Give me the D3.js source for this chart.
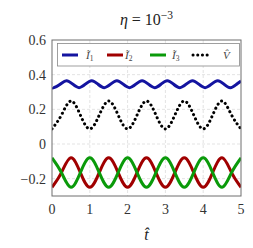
<!DOCTYPE html>
<html>
<head>
<meta charset="utf-8">
<script src="https://cdn.jsdelivr.net/npm/d3@7"></script>
<style>
  body { margin: 0; background: #fff; }
</style>
</head>
<body>
<script>
// values, key points (troughs, mids, peaks)
const i1T = [0, 0.05, 0.217, 0.383, 0.55, 0.717, 0.883, 1.05, 1.217, 1.383, 1.55, 1.717, 1.883,
  2.05, 2.217, 2.383, 2.55, 2.717, 2.883, 3.05, 3.217, 3.383, 3.55, 3.717, 3.883,
  4.05, 4.217, 4.383, 4.55, 4.717, 4.883, 5];
const i1V = [0.326, 0.325, 0.345, 0.365, 0.345, 0.325, 0.345, 0.365, 0.345, 0.325, 0.345, 0.365, 0.345,
  0.325, 0.345, 0.365, 0.345, 0.325, 0.345, 0.365, 0.345, 0.325, 0.345, 0.365, 0.345,
  0.325, 0.345, 0.365, 0.345, 0.325, 0.345, 0.363];

const qT = [0, 0.25, 0.5, 0.75, 1, 1.25, 1.5, 1.75, 2, 2.25, 2.5, 2.75, 3, 3.25, 3.5, 3.75, 4, 4.25, 4.5, 4.75, 5];
const i2V = [-0.25, -0.165, -0.08, -0.165, -0.25, -0.165, -0.08, -0.165, -0.25, -0.165, -0.08,
  -0.165, -0.25, -0.165, -0.08, -0.165, -0.25, -0.165, -0.08, -0.165, -0.25];
const i3V = [-0.08, -0.165, -0.25, -0.165, -0.08, -0.165, -0.25, -0.165, -0.08, -0.165, -0.25,
  -0.165, -0.08, -0.165, -0.25, -0.165, -0.08, -0.165, -0.25, -0.165, -0.08];
const vV = [0.087, 0.167, 0.248, 0.167, 0.087, 0.167, 0.248, 0.167, 0.087, 0.167, 0.248,
  0.167, 0.087, 0.167, 0.248, 0.167, 0.087, 0.167, 0.248, 0.167, 0.087];

const xTicks = [0, 1, 2, 3, 4, 5];
const yTicks = [-0.2, 0, 0.2, 0.4, 0.6];

const series = [
  {name: "1", t: i1T, v: i1V, color: "#1414a0", dash: null},
  {name: "2", t: qT, v: i2V, color: "#a00000", dash: null},
  {name: "3", t: qT, v: i3V, color: "#0a9a0a", dash: null},
  {name: "V", t: qT, v: vV, color: "#000", dash: "0.1 4.6"}
];

const width = 253, height = 248;
const m = {left: 52, right: 241, top: 40, bottom: 196};
const serif = "'Liberation Serif', 'DejaVu Serif', 'Times New Roman', serif";

const svg = d3.select("body").append("svg")
  .attr("width", width).attr("height", height)
  .attr("font-family", serif);

const x = d3.scaleLinear().domain([0, 5]).range([m.left, m.right]);
const y = d3.scaleLinear().domain([-0.3, 0.6]).range([m.bottom, m.top]);

// grid
svg.append("g").selectAll("line").data(xTicks.slice(1, -1)).enter().append("line")
  .attr("x1", d => x(d)).attr("x2", d => x(d)).attr("y1", m.top).attr("y2", m.bottom)
  .style("stroke", "#dcdcdc").style("stroke-width", 0.8).style("stroke-dasharray", "3,2");
svg.append("g").selectAll("line").data(yTicks.slice(0, -1)).enter().append("line")
  .attr("x1", m.left).attr("x2", m.right).attr("y1", d => y(d)).attr("y2", d => y(d))
  .style("stroke", "#dcdcdc").style("stroke-width", 0.8).style("stroke-dasharray", "3,2");

svg.append("clipPath").attr("id", "clip").append("rect")
  .attr("x", m.left).attr("y", m.top).attr("width", m.right - m.left).attr("height", m.bottom - m.top);

const line = d3.line().curve(d3.curveNatural);
svg.append("g").attr("clip-path", "url(#clip)").selectAll("path").data(series).enter().append("path")
  .attr("d", s => line(s.t.map((t, i) => [x(t), y(s.v[i])])))
  .style("fill", "none")
  .style("stroke", s => s.color)
  .style("stroke-width", 3)
  .style("stroke-linecap", s => s.dash ? "round" : "butt")
  .style("stroke-dasharray", s => s.dash);

// frame
svg.append("rect").attr("x", m.left).attr("y", m.top)
  .attr("width", m.right - m.left).attr("height", m.bottom - m.top)
  .style("fill", "none").style("stroke", "#6e6e6e").style("stroke-width", 1);

// tick labels
svg.append("g").selectAll("text").data(xTicks).enter().append("text")
  .attr("x", d => x(d)).attr("y", 214)
  .attr("text-anchor", "middle").style("font-size", "14px").style("fill", "#333")
  .text(d => d);
svg.append("g").selectAll("text").data(yTicks).enter().append("text")
  .attr("x", 46).attr("y", d => y(d) + 5)
  .attr("text-anchor", "end").style("font-size", "14px").style("fill", "#333")
  .text(d => d === 0 ? "0" : (d < 0 ? "\u2212" + d3.format(".1f")(-d) : d3.format(".1f")(d)));

// title
const title = svg.append("text").attr("x", 146.5).attr("y", 25)
  .attr("text-anchor", "middle").style("font-size", "16px").style("fill", "#222");
title.append("tspan").style("font-style", "italic").text("\u03b7");
title.append("tspan").text(" = 10");
title.append("tspan").attr("dy", -6).style("font-size", "11.5px").text("\u22123");

// x label
svg.append("text").attr("x", 146.5).attr("y", 240)
  .attr("text-anchor", "middle").style("font-size", "16px").style("font-style", "italic")
  .style("fill", "#222").text("t\u0302");

// legend
const leg = svg.append("g");
leg.append("rect").attr("x", 57.5).attr("y", 43.5).attr("width", 182).attr("height", 22.5)
  .style("fill", "#fff").style("stroke", "#888").style("stroke-width", 0.8);
const legX = [62, 107, 150, 193];
const labX = [86, 125, 172, 223];
leg.selectAll("line").data(series).enter().append("line")
  .attr("x1", (s, i) => legX[i]).attr("x2", (s, i) => legX[i] + 16)
  .attr("y1", 55).attr("y2", 55)
  .style("stroke", s => s.color).style("stroke-width", 3)
  .style("stroke-linecap", s => s.dash ? "round" : "butt")
  .style("stroke-dasharray", s => s.dash);
series.forEach((s, i) => {
  const t = leg.append("text").attr("x", labX[i]).attr("y", 59)
    .style("font-size", "11px").style("fill", "#444");
  if (s.name === "V") {
    t.append("tspan").style("font-style", "italic").text("V\u0302");
  } else {
    t.append("tspan").style("font-style", "italic").text("\u0128");
    t.append("tspan").attr("dy", 2).style("font-size", "7.5px").text(s.name);
  }
});
</script>
</body>
</html>
